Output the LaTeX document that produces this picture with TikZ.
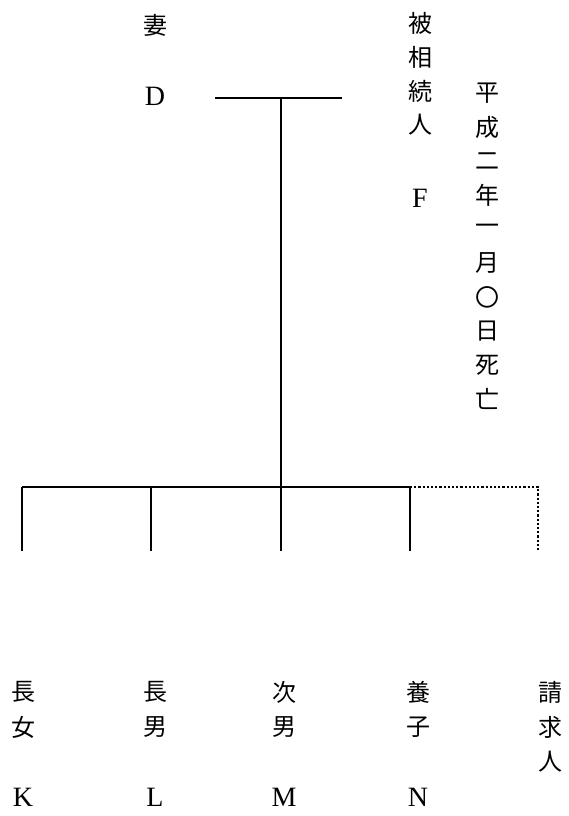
\documentclass[tikz,border=0pt]{standalone}
\usepackage{fontspec}
\setmainfont{Liberation Serif}
\newfontfamily\cjk{Noto Sans CJK JP}
\begin{document}
\begin{tikzpicture}[x=1pt,y=-1pt,
  kanji/.style={font=\cjk\fontsize{24}{28}\selectfont,inner sep=0pt,anchor=center},
  latin/.style={font=\fontsize{28}{32}\selectfont,inner sep=0pt,anchor=center},
  solidline/.style={line width=1.6pt},
  dotline/.style={line width=2pt,dash pattern=on 2.2pt off 2pt}]
\useasboundingbox[fill=white] (0,0) rectangle (568,816);
% spouse
\node[kanji] (tsuma) at (155,25) {妻};
\node[latin] (D) at (155,96) {D};
% deceased
\foreach \c [count=\i from 0] in {被,相,続,人}
  \node[kanji] (hi\i) at (420,23+34*\i) {\c};
\node[latin] (F) at (420,198) {F};
% date of death
\foreach \c [count=\i from 0] in {平,成,二,年,一,月,〇,日,死,亡}
  \node[kanji] (dt\i) at (487,93+34*\i) {\c};
% marriage line and descent
\coordinate (mL) at (215,98);
\coordinate (mR) at (342,98);
\coordinate (mC) at (281,98);
\coordinate (bC) at (281,487);
\coordinate (b1) at (22,487);
\coordinate (b2) at (151,487);
\coordinate (b4) at (410,487);
\coordinate (b5) at (538,487);
\coordinate (e1) at (22,551);
\coordinate (e2) at (151,551);
\coordinate (e3) at (281,551);
\coordinate (e4) at (410,551);
\coordinate (e5) at (538,551);
\draw[solidline] (mL) -- (mR);
\draw[solidline] (mC) -- (bC);
\draw[solidline] (b1) -- (b4);
\draw[solidline] (b1) -- (e1);
\draw[solidline] (b2) -- (e2);
\draw[solidline] (bC) -- (e3);
\draw[solidline] (b4) -- (e4);
\draw[dotline] (b4) -- (b5) -- (e5);
% children
\node[kanji] (c1a) at (23,692) {長};
\node[kanji] (c1b) at (23,727) {女};
\node[latin] (K) at (23,797) {K};
\node[kanji] (c2a) at (155,692) {長};
\node[kanji] (c2b) at (155,727) {男};
\node[latin] (L) at (155,797) {L};
\node[kanji] (c3a) at (284,692) {次};
\node[kanji] (c3b) at (284,727) {男};
\node[latin] (M) at (284,797) {M};
\node[kanji] (c4a) at (418,692) {養};
\node[kanji] (c4b) at (418,727) {子};
\node[latin] (N) at (418,797) {N};
\node[kanji] (c5a) at (550,692) {請};
\node[kanji] (c5b) at (550,727) {求};
\node[kanji] (c5c) at (550,762) {人};
\end{tikzpicture}
\end{document}
